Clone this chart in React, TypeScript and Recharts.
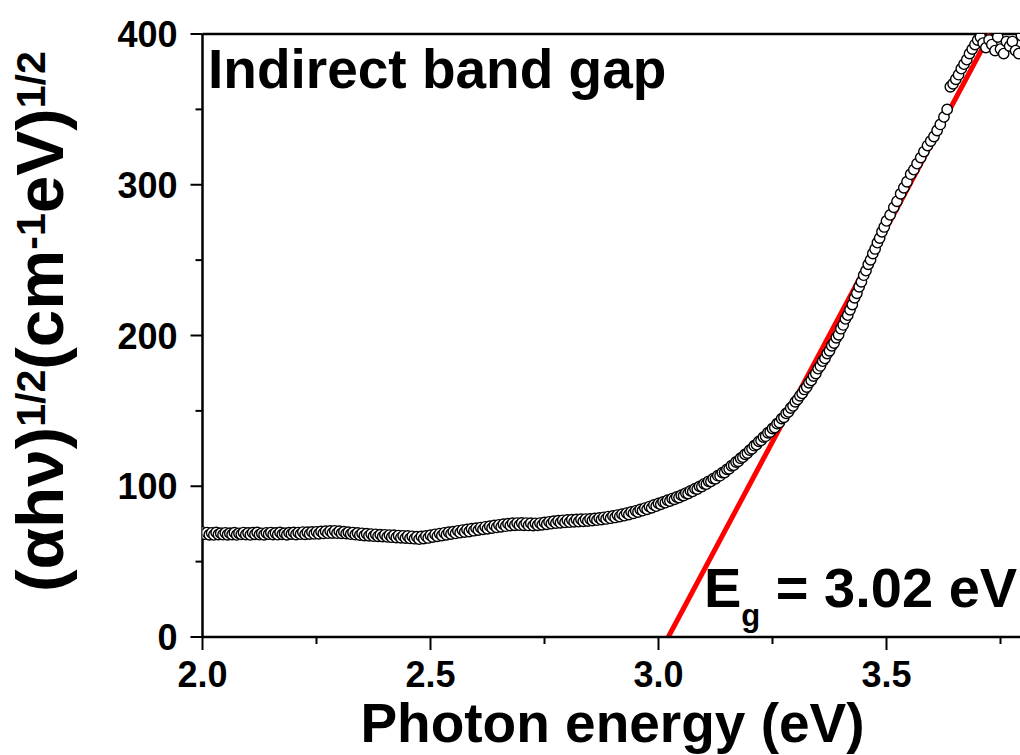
import { ComposedChart, Scatter, XAxis, YAxis, ReferenceLine } from 'recharts'

const FONT = '"Liberation Sans", Arial, sans-serif'

const lowEnergy = [
  2.000, 2.005, 2.010, 2.015, 2.020, 2.025, 2.030, 2.035, 2.040, 2.045,
  2.050, 2.055, 2.060, 2.065, 2.070, 2.075, 2.080, 2.085, 2.090, 2.095,
  2.100, 2.105, 2.110, 2.115, 2.120, 2.125, 2.130, 2.135, 2.140, 2.145,
  2.150, 2.155, 2.160, 2.165, 2.170, 2.175, 2.180, 2.185, 2.190, 2.195,
  2.200, 2.205, 2.210, 2.215, 2.220, 2.225, 2.230, 2.235, 2.240, 2.245,
  2.250, 2.255, 2.260, 2.265, 2.270, 2.275, 2.280, 2.285, 2.290, 2.295,
  2.300, 2.305, 2.310, 2.315, 2.320, 2.325, 2.330, 2.335, 2.340, 2.345,
  2.350, 2.355, 2.360, 2.365, 2.370, 2.375, 2.380, 2.385, 2.390, 2.395,
  2.400, 2.405, 2.410, 2.415, 2.420, 2.425, 2.430, 2.435, 2.440, 2.445,
  2.450, 2.455, 2.460, 2.465, 2.470, 2.475, 2.480, 2.485, 2.490, 2.495,
  2.500, 2.505, 2.510, 2.515, 2.520, 2.525, 2.530, 2.535, 2.540, 2.545,
  2.550, 2.555, 2.560, 2.565, 2.570, 2.575, 2.580, 2.585, 2.590, 2.595,
  2.600, 2.605, 2.610, 2.615, 2.620, 2.625, 2.630, 2.635, 2.640, 2.645,
  2.650, 2.655, 2.660, 2.665, 2.670, 2.675, 2.680, 2.685, 2.690, 2.695,
  2.700, 2.705, 2.710, 2.715, 2.720, 2.725, 2.730, 2.735, 2.740, 2.745,
  2.750, 2.755, 2.760, 2.765, 2.770, 2.775, 2.780, 2.785, 2.790, 2.795,
  2.800, 2.805, 2.810, 2.815, 2.820, 2.825, 2.830, 2.835, 2.840, 2.845,
  2.850, 2.855, 2.860, 2.865, 2.870, 2.875, 2.880, 2.885, 2.890, 2.895,
  2.900, 2.905, 2.910, 2.915, 2.920, 2.925, 2.930, 2.935, 2.940, 2.945,
  2.950, 2.955, 2.960, 2.965, 2.970, 2.975, 2.980, 2.985, 2.990, 2.995,
]
const lowValue = [
  69.6, 68.2, 69.3, 67.8, 69.1, 67.7, 69.4, 68.0, 68.9, 67.9,
  69.1, 67.8, 68.9, 68.0, 69.2, 67.7, 68.8, 68.1, 69.3, 67.9,
  69.0, 67.7, 69.2, 68.1, 69.4, 67.9, 68.8, 67.8, 69.1, 68.2,
  69.3, 68.0, 69.0, 67.9, 69.4, 68.1, 68.9, 67.8, 69.2, 68.3,
  69.4, 68.0, 69.3, 68.2, 69.6, 68.1, 69.5, 68.3, 69.7, 68.4,
  69.8, 68.5, 70.0, 68.7, 70.2, 68.9, 70.3, 69.0, 70.4, 68.9,
  70.2, 68.8, 69.9, 68.6, 69.5, 68.2, 69.3, 67.9, 69.0, 67.6,
  68.8, 67.3, 68.5, 67.1, 68.3, 66.9, 68.1, 66.8, 67.9, 66.6,
  67.8, 66.4, 67.6, 66.2, 67.5, 66.0, 67.3, 65.8, 67.1, 65.6,
  67.0, 65.4, 66.8, 65.2, 66.5, 64.9, 66.7, 65.3, 67.0, 65.7,
  67.5, 66.3, 68.1, 66.8, 68.6, 67.3, 69.1, 67.8, 69.5, 68.3,
  69.9, 68.7, 70.4, 69.2, 70.9, 69.6, 71.3, 70.0, 71.8, 70.5,
  72.2, 70.9, 72.6, 71.4, 73.1, 71.8, 73.5, 72.3, 74.0, 72.7,
  74.4, 73.1, 74.8, 73.5, 75.2, 73.9, 75.5, 74.1, 75.6, 74.2,
  75.7, 74.1, 75.6, 74.0, 75.5, 73.9, 75.4, 74.1, 75.6, 74.4,
  76.0, 74.8, 76.4, 75.2, 76.8, 75.5, 77.1, 75.8, 77.4, 76.0,
  77.6, 76.2, 77.8, 76.4, 78.0, 76.5, 78.1, 76.7, 78.2, 76.9,
  78.3, 77.2, 78.6, 77.5, 79.0, 77.9, 79.4, 78.3, 79.9, 78.8,
  80.3, 79.3, 80.9, 79.9, 81.5, 80.5, 82.2, 81.2, 83.0, 82.0,
  83.7, 82.9, 84.6, 83.8, 85.5, 84.7, 86.5, 85.7, 87.6, 86.8,
]

const edgeEnergy = [
  3.000, 3.005, 3.010, 3.015, 3.020, 3.025, 3.030, 3.035, 3.040, 3.045,
  3.050, 3.055, 3.060, 3.065, 3.070, 3.075, 3.080, 3.085, 3.090, 3.095,
  3.100, 3.105, 3.110, 3.115, 3.120, 3.125, 3.130, 3.135, 3.140, 3.145,
  3.150, 3.155, 3.160, 3.165, 3.170, 3.175, 3.180, 3.185, 3.190, 3.195,
  3.200, 3.205, 3.210, 3.215, 3.220, 3.225, 3.230, 3.235, 3.240, 3.245,
  3.250, 3.255, 3.260, 3.265, 3.270, 3.275, 3.280, 3.285, 3.290, 3.295,
  3.300, 3.305, 3.310, 3.315, 3.320, 3.325, 3.330, 3.335, 3.340, 3.345,
  3.350, 3.355, 3.360, 3.365, 3.370, 3.375, 3.380, 3.385, 3.390, 3.395,
  3.400, 3.405, 3.410, 3.415, 3.420, 3.425, 3.430, 3.435, 3.440, 3.445,
  3.450, 3.455, 3.460, 3.465, 3.470, 3.475, 3.480, 3.485, 3.490, 3.495,
]
const edgeValue = [
  88.6, 88.0, 89.6, 89.1, 90.7, 90.2, 91.8, 91.3, 92.9, 92.5,
  94.1, 93.8, 95.5, 95.2, 96.9, 96.6, 98.4, 98.1, 99.9, 99.8,
  101.6, 101.4, 103.3, 103.2, 105.1, 105.0, 107.0, 107.0, 109.0, 109.1,
  111.2, 111.6, 113.6, 114.0, 116.1, 116.6, 118.6, 119.3, 121.2, 122.0,
  124.0, 124.8, 126.9, 127.6, 129.8, 130.4, 132.6, 133.2, 135.5, 136.0,
  138.3, 139.0, 141.5, 142.3, 144.9, 145.7, 148.3, 149.3, 151.9, 153.3,
  156.0, 157.6, 160.0, 161.6, 164.2, 165.8, 168.6, 170.2, 173.1, 174.8,
  178.0, 179.8, 183.0, 184.8, 188.0, 189.9, 193.2, 195.0, 198.5, 200.5,
  204.5, 207.0, 211.0, 213.5, 217.0, 220.5, 225.0, 228.0, 232.3, 235.6,
  240.0, 243.0, 247.2, 250.2, 254.4, 257.4, 261.6, 264.6, 268.8, 272.0,
]

const topEnergy = [
  3.500, 3.508, 3.516, 3.523, 3.531, 3.538, 3.545, 3.553, 3.560, 3.567,
  3.575, 3.582, 3.590, 3.597, 3.604, 3.611, 3.618, 3.626, 3.633, 3.640,
  3.646, 3.652, 3.658, 3.664, 3.670, 3.676, 3.682, 3.688, 3.694, 3.700,
  3.706, 3.712, 3.718, 3.725, 3.731, 3.738, 3.744, 3.750, 3.757, 3.763,
  3.770, 3.776, 3.783, 3.790, 3.796,
]
const topValue = [
  276, 280, 285, 289, 294, 298, 302, 307, 310, 314,
  318, 322, 326, 329, 332, 336, 340, 345, 350, 365,
  367, 370, 373, 377, 380, 383, 387, 390, 393, 396,
  398, 394, 391, 396, 393, 389, 398, 390, 387, 395,
  392, 395, 389, 387, 399,
]

// linear fit of the absorption edge (intercept gives Eg)
const fitEnergy = [3.0215, 3.727]
const fitValue = [0, 400]

const xTicks = [2.0, 2.25, 2.5, 2.75, 3.0, 3.25, 3.5, 3.75]
const yTicks = [0, 50, 100, 150, 200, 250, 300, 350, 400]

const points = [
  ...lowEnergy.map((e, i) => ({ e, v: lowValue[i] })),
  ...edgeEnergy.map((e, i) => ({ e, v: edgeValue[i] })),
  ...topEnergy.map((e, i) => ({ e, v: topValue[i] })),
]

const Ring = (p: any) => (
  <circle cx={p.cx} cy={p.cy} r={5.2} fill="#fff" stroke="#000" strokeWidth={1.4} />
)

const XTick = ({ x, y, payload }: any) => {
  const v = payload.value as number
  const major = Math.abs(v * 2 - Math.round(v * 2)) < 1e-6
  return (
    <g>
      <line x1={x} x2={x} y1={y} y2={y + (major ? 13 : 7)} stroke="#000" strokeWidth={2} />
      {major && (
        <text x={x} y={y + 50} textAnchor="middle" fontSize={36} fontWeight="bold" fontFamily={FONT} fill="#000">
          {v.toFixed(1)}
        </text>
      )}
    </g>
  )
}

const YTick = ({ x, y, payload }: any) => {
  const v = payload.value as number
  const major = v % 100 === 0
  return (
    <g>
      <line x1={x - (major ? 12 : 7)} x2={x} y1={y} y2={y} stroke="#000" strokeWidth={2} />
      {major && (
        <text x={x - 25} y={y + 13} textAnchor="end" fontSize={36} fontWeight="bold" fontFamily={FONT} fill="#000">
          {v}
        </text>
      )}
    </g>
  )
}

export default function App() {
  return (
    <div style={{ position: 'absolute', left: 0, top: 0, width: 1020, height: 755, overflow: 'hidden', background: '#fff' }}>
      <ComposedChart width={1030} height={755} data={points} margin={{ top: 34, right: 6.7, left: 0, bottom: 38 }}>
        <XAxis
          type="number"
          dataKey="e"
          domain={[2.0, 3.8]}
          ticks={xTicks}
          allowDataOverflow
          height={80}
          tickSize={0}
          tickMargin={0}
          tickLine={false}
          axisLine={{ stroke: '#000', strokeWidth: 2.5 }}
          tick={<XTick />}
          interval={0}
        />
        <YAxis
          type="number"
          dataKey="v"
          domain={[0, 400]}
          ticks={yTicks}
          allowDataOverflow
          width={202.5}
          tickSize={0}
          tickMargin={0}
          tickLine={false}
          axisLine={{ stroke: '#000', strokeWidth: 2.5 }}
          tick={<YTick />}
          interval={0}
        />
        <ReferenceLine y={400} stroke="#000" strokeWidth={2.5} ifOverflow="visible" />
        <Scatter data={points} dataKey="v" shape={<Ring />} isAnimationActive={false} />
        <ReferenceLine
          segment={[
            { x: fitEnergy[0], y: fitValue[0] },
            { x: fitEnergy[1], y: fitValue[1] },
          ]}
          stroke="#ff0000"
          strokeWidth={5}
          ifOverflow="visible"
        />
      </ComposedChart>
      <svg width={1020} height={755} style={{ position: 'absolute', left: 0, top: 0, pointerEvents: 'none' }}>
        <g fontFamily={FONT} fontWeight="bold" fill="#000">
          <text x={208} y={88} fontSize={55}>Indirect band gap</text>
          <text x={704} y={607} fontSize={56}>
            E<tspan fontSize={31} dy={19}>g</tspan>
            <tspan dy={-19}> = 3.02 eV</tspan>
          </text>
          <text x={612.5} y={742} fontSize={55} textAnchor="middle">Photon energy (eV)</text>
          <text transform="translate(63,592) rotate(-90)" fontSize={67.5}>
            (αhν)<tspan fontSize={41} dy={-18}>1/2</tspan>
            <tspan dy={18}>(cm</tspan>
            <tspan fontSize={41} dy={-18}>-1</tspan>
            <tspan dy={18}>eV)</tspan>
            <tspan fontSize={41} dy={-18}>1/2</tspan>
          </text>
        </g>
      </svg>
    </div>
  )
}
